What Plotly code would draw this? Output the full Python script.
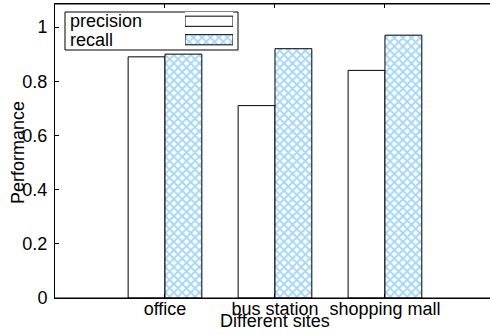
import plotly.graph_objects as go

# Per-site detection performance
sites = ["office", "bus station", "shopping mall"]
precision = [0.89, 0.71, 0.84]
recall = [0.90, 0.92, 0.97]
series_names = ["precision", "recall"]
y_ticks = [0, 0.2, 0.4, 0.6, 0.8, 1]
y_tick_labels = ["0", "0.2", "0.4", "0.6", "0.8", "1"]

FONT = "Liberation Sans, Arial, Helvetica, sans-serif"
FS = 18
HATCH = "#4dafec"
hatch = dict(shape="x", fgcolor=HATCH, bgcolor="white", size=6, solidity=0.55)

fig = go.Figure()

fig.add_trace(go.Bar(
    x=sites, y=precision, name=series_names[0],
    marker=dict(color="white", line=dict(color="black", width=1)),
    showlegend=False,
))
fig.add_trace(go.Bar(
    x=sites, y=recall, name=series_names[1],
    marker=dict(color="white", line=dict(color="black", width=1), pattern=hatch),
    showlegend=False,
))

# Legend keys: wide swatches drawn on a small inset axis
fig.add_trace(go.Bar(
    y=[series_names[0]], x=[1], orientation="h", xaxis="x2", yaxis="y2",
    marker=dict(color="white", line=dict(color="black", width=1)),
    width=0.55, showlegend=False, hoverinfo="skip",
))
fig.add_trace(go.Bar(
    y=[series_names[1]], x=[1], orientation="h", xaxis="x2", yaxis="y2",
    marker=dict(color="white", line=dict(color="black", width=1), pattern=hatch),
    width=0.55, showlegend=False, hoverinfo="skip",
))

W, H = 490, 335
L, T, B, R = 55, 4, 37, 0
pw, ph = W - L - R, H - T - B

def px(x):
    return (x - L) / pw

def py(y):
    return (H - B - y) / ph

fig.update_layout(
    width=W, height=H,
    margin=dict(l=L, r=R, t=T, b=B),
    paper_bgcolor="white", plot_bgcolor="white",
    barmode="group", bargap=0.33, bargroupgap=0,
    font=dict(family=FONT, size=FS, color="black"),
    xaxis=dict(
        range=[-1, 2.955], showgrid=False, zeroline=False,
        showline=True, linecolor="black", linewidth=1, mirror="ticks",
        ticks="inside", ticklen=4, tickcolor="black",
        tickfont=dict(size=FS), ticklabelstandoff=-6,
    ),
    yaxis=dict(
        range=[0, 1.085], showgrid=False, zeroline=False,
        showline=True, linecolor="black", linewidth=1, mirror=False,
        ticks="inside", ticklen=4, tickcolor="black",
        tickvals=y_ticks, ticktext=y_tick_labels,
        tickfont=dict(size=FS), ticklabelstandoff=3,
    ),
    xaxis2=dict(domain=[px(185), px(233)], range=[0, 1], visible=False,
                anchor="y2", fixedrange=True),
    yaxis2=dict(domain=[py(49), py(12)], anchor="x2", visible=False,
                autorange="reversed", fixedrange=True),
    shapes=[
        # frame lines along the top and bottom
        dict(type="line", xref="paper", yref="paper", x0=0, x1=1, y0=1, y1=1,
             line=dict(color="black", width=1)),
        dict(type="line", xref="paper", yref="paper", x0=0, x1=1, y0=0, y1=0,
             line=dict(color="black", width=1)),
        # legend box
        dict(type="rect", xref="paper", yref="paper",
             x0=px(65), x1=px(238), y0=py(50), y1=py(12),
             line=dict(color="black", width=1), fillcolor="rgba(0,0,0,0)",
             layer="below"),
    ],
    annotations=[
        dict(text=series_names[0], xref="paper", yref="paper",
             x=px(68), y=py(21), xanchor="left", yanchor="middle",
             showarrow=False, font=dict(size=FS)),
        dict(text=series_names[1], xref="paper", yref="paper",
             x=px(68), y=py(40), xanchor="left", yanchor="middle",
             showarrow=False, font=dict(size=FS)),
        dict(text="Performance", xref="paper", yref="paper",
             x=px(18), y=py(153), textangle=-90, xanchor="center",
             yanchor="middle", showarrow=False, font=dict(size=FS)),
        dict(text="Different sites", xref="paper", yref="paper",
             x=px(275), y=py(321), xanchor="center", yanchor="middle",
             showarrow=False, font=dict(size=FS)),
    ],
)

fig.write_html("out.html")
